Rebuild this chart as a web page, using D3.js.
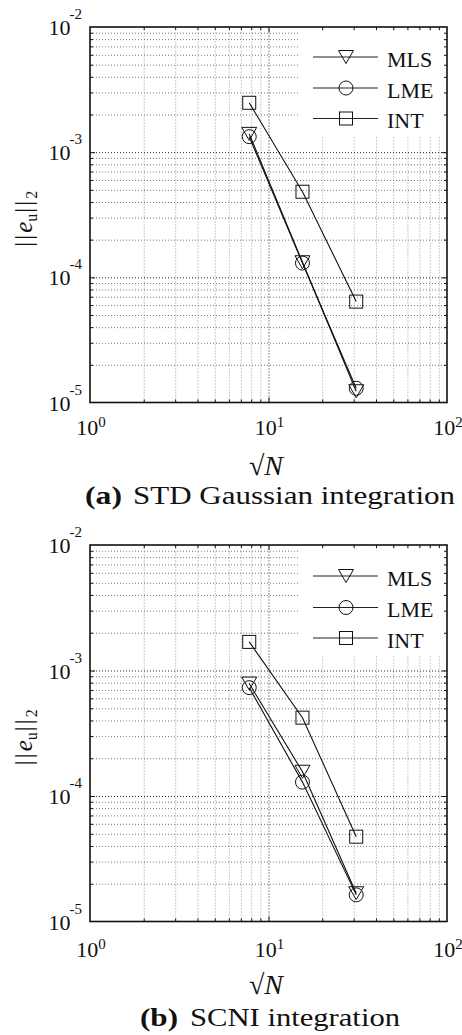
<!DOCTYPE html>
<html>
<head>
<meta charset="utf-8">
<script src="https://cdn.jsdelivr.net/npm/d3@7"></script>
<style>
  body { margin: 0; background: #fff; }
  svg { display: block; }
  text { font-family: "Liberation Serif", "Times New Roman", serif; fill: #111; }
</style>
</head>
<body>
<svg id="fig" width="462" height="1035"></svg>
<script>
// sqrt(N) for the three meshes
var sqrtN = [7.8, 15.5, 31];

// (a) STD Gaussian integration
var stdMLS = [1.40e-3, 1.32e-4, 1.23e-5];
var stdLME = [1.33e-3, 1.30e-4, 1.30e-5];
var stdINT = [2.48e-3, 4.83e-4, 6.4e-5];

// (b) SCNI integration
var scniMLS = [7.87e-4, 1.56e-4, 1.68e-5];
var scniLME = [7.3e-4, 1.29e-4, 1.63e-5];
var scniINT = [1.69e-3, 4.21e-4, 4.74e-5];

var seriesNames = ["MLS", "LME", "INT"];
var seriesMarkers = ["triangle", "circle", "square"];

var xMajor = [1, 10, 100];
var xExp = ["0", "1", "2"];
var yMajor = [1e-5, 1e-4, 1e-3, 1e-2];
var yExp = ["-5", "-4", "-3", "-2"];

var svg = d3.select("#fig");

function minorsOf(lo, hi) {
    var out = [];
    for (var d = lo; d < hi; d *= 10) {
        for (var k = 2; k <= 9; k++) out.push(d * k);
    }
    return out;
}

function marker(g, type, cx, cy) {
    if (type == "circle") {
        g.append("circle").attr("cx", cx).attr("cy", cy).attr("r", 7)
            .attr("fill", "none").attr("stroke", "#111").attr("stroke-width", 1);
    } else if (type == "square") {
        g.append("rect").attr("x", cx - 6.5).attr("y", cy - 6.5)
            .attr("width", 13).attr("height", 13)
            .attr("fill", "none").attr("stroke", "#111").attr("stroke-width", 1);
    } else {
        g.append("path")
            .attr("d", "M" + (cx - 7.5) + "," + (cy - 6.5) + "L" + (cx + 7.5) + "," + (cy - 6.5) +
                "L" + cx + "," + (cy + 6.5) + "Z")
            .attr("fill", "none").attr("stroke", "#111").attr("stroke-width", 1);
    }
}

function drawPanel(top, bottom, series, legendRows, tickDy, tag, caption, tagBox, capBox, capY) {
    var left = 90, right = 447;
    var x = d3.scaleLog().domain([1, 100]).range([left, right]);
    var y = d3.scaleLog().domain([1e-5, 1e-2]).range([bottom, top]);
    var h = bottom - top, w = right - left;
    var g = svg.append("g");

    var xMinor = minorsOf(1, 100), yMinor = minorsOf(1e-5, 1e-2);

    // grid lines, minor then major
    function grid(ax, vals, color, tr) {
        var a = g.append("g").attr("transform", tr).call(ax.tickValues(vals).tickFormat(""));
        a.select(".domain").remove();
        a.selectAll("line").attr("stroke", color).attr("stroke-width", 1)
            .attr("stroke-dasharray", "1,2");
    }
    grid(d3.axisBottom(x).tickSize(-h), xMinor, "#999", "translate(0," + bottom + ")");
    grid(d3.axisLeft(y).tickSize(-w), yMinor, "#777", "translate(" + left + ",0)");
    grid(d3.axisBottom(x).tickSize(-h), [10], "#222", "translate(0," + bottom + ")");
    grid(d3.axisLeft(y).tickSize(-w), [1e-4, 1e-3], "#222", "translate(" + left + ",0)");

    // data lines + markers
    var line = d3.line().x(function(d) { return x(d[0]); }).y(function(d) { return y(d[1]); });
    series.forEach(function(s, i) {
        var pts = sqrtN.map(function(v, j) { return [v, s[j]]; });
        g.append("path").attr("d", line(pts)).attr("fill", "none")
            .attr("stroke", "#111").attr("stroke-width", 1.1);
        pts.forEach(function(p) { marker(g, seriesMarkers[i], x(p[0]), y(p[1])); });
    });

    // legend
    g.append("rect").attr("x", 298).attr("y", top + 4).attr("width", 147).attr("height", 106)
        .attr("fill", "#fff");
    seriesNames.forEach(function(name, i) {
        var ry = top + legendRows[i];
        g.append("line").attr("x1", 313).attr("x2", 378).attr("y1", ry).attr("y2", ry)
            .attr("stroke", "#222").attr("stroke-width", 1);
        marker(g, seriesMarkers[i], 346, ry);
        g.append("text").attr("x", 387).attr("y", ry + 9.5).attr("font-size", 22).text(name);
    });

    // inward ticks on all four sides
    function ticks(ax, vals, len, tr) {
        var a = g.append("g").attr("transform", tr).call(ax.tickValues(vals).tickSize(-len).tickFormat(""));
        a.select(".domain").remove();
        a.selectAll("line").attr("stroke", "#111").attr("stroke-width", 1);
    }
    ticks(d3.axisBottom(x), xMinor, 3, "translate(0," + bottom + ")");
    ticks(d3.axisTop(x), xMinor, 3, "translate(0," + top + ")");
    ticks(d3.axisBottom(x), [10], 5, "translate(0," + bottom + ")");
    ticks(d3.axisTop(x), [10], 5, "translate(0," + top + ")");
    ticks(d3.axisLeft(y), yMinor, 3, "translate(" + left + ",0)");
    ticks(d3.axisRight(y), yMinor, 3, "translate(" + right + ",0)");
    ticks(d3.axisLeft(y), [1e-4, 1e-3], 5, "translate(" + left + ",0)");
    ticks(d3.axisRight(y), [1e-4, 1e-3], 5, "translate(" + right + ",0)");

    g.append("rect").attr("x", left).attr("y", top).attr("width", w).attr("height", h)
        .attr("fill", "none").attr("stroke", "#111").attr("stroke-width", 1.6);

    // tick labels
    xMajor.forEach(function(v, i) {
        var t = g.append("text").attr("x", x(v) + 1).attr("y", bottom + tickDy)
            .attr("text-anchor", "middle").attr("font-size", 22);
        t.append("tspan").text("10");
        t.append("tspan").attr("dy", -8).attr("font-size", 15).text(xExp[i]);
    });
    yMajor.forEach(function(v, i) {
        var t = g.append("text").attr("x", 82).attr("y", y(v) + 8)
            .attr("text-anchor", "end").attr("font-size", 22);
        t.append("tspan").text("10");
        t.append("tspan").attr("dy", -16).attr("dx", -1).attr("font-size", 15).text(yExp[i]);
    });

    // axis labels
    var xl = g.append("text").attr("x", 266).attr("y", bottom + 72)
        .attr("text-anchor", "middle").attr("font-size", 28);
    xl.append("tspan").text("\u221A");
    xl.append("tspan").attr("font-style", "italic").text("N");

    var yl = g.append("text")
        .attr("transform", "translate(32," + ((top + bottom) / 2 + 4) + ") rotate(-90)")
        .attr("text-anchor", "middle").attr("font-size", 25);
    yl.append("tspan").attr("letter-spacing", 2).text("||");
    yl.append("tspan").attr("font-style", "italic").text("e");
    yl.append("tspan").attr("dy", 5).attr("font-size", 16).text("u");
    yl.append("tspan").attr("dy", -5).attr("dx", 1).attr("letter-spacing", 2).text("||");
    yl.append("tspan").attr("dy", 5).attr("font-size", 16).text("2");

    // caption
    g.append("text").attr("x", tagBox[0]).attr("y", capY).attr("font-size", 26)
        .attr("font-weight", "bold").attr("textLength", tagBox[1])
        .attr("lengthAdjust", "spacingAndGlyphs").text(tag);
    g.append("text").attr("x", capBox[0]).attr("y", capY).attr("font-size", 26)
        .attr("textLength", capBox[1]).attr("lengthAdjust", "spacingAndGlyphs").text(caption);
}

drawPanel(27, 402.5, [stdMLS, stdLME, stdINT], [30, 61, 91.5], 32,
    "(a)", "STD Gaussian integration", [85, 37], [133, 322], 504);
drawPanel(545, 921.5, [scniMLS, scniLME, scniINT], [31, 62.5, 93], 35,
    "(b)", "SCNI integration", [140, 38], [190, 210], 1025.5);
</script>
</body>
</html>
